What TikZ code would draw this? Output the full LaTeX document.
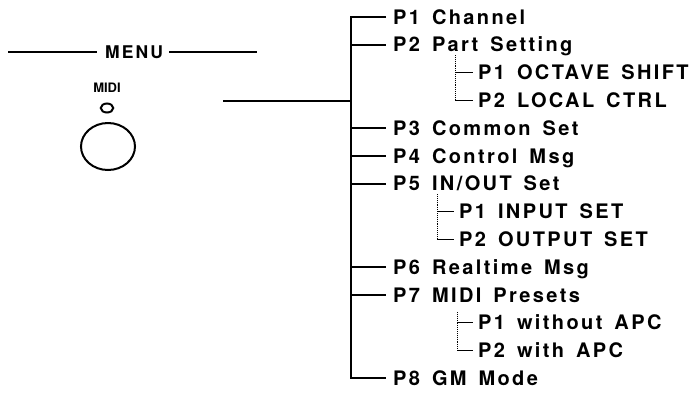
\documentclass[tikz,border=0pt]{standalone}
\usepackage{fontspec}
\setmainfont{TeX Gyre Heros}
\newfontfamily\menufont[LetterSpace=12,WordSpace=1.5]{TeX Gyre Heros}
\usepackage{tikz}
\usetikzlibrary{shapes.geometric}

\begin{document}
\begin{tikzpicture}[x=1pt, y=-1pt,
        item/.style={anchor=west, inner sep=0pt, font=\menufont\bfseries\fontsize{20}{22}\selectfont, text height=14.3pt, text depth=0pt},
        heading/.style={inner sep=0pt, font=\menufont\bfseries\fontsize{17.5}{19}\selectfont, text height=12.6pt, text depth=0pt},
        small/.style={inner sep=0pt, font=\bfseries\fontsize{13}{15}\selectfont, text height=9.4pt, text depth=0pt},
        rule/.style={line width=2pt},
        trunk/.style={line width=2pt},
        branch/.style={line width=1.6pt},
        subtrunk/.style={line width=0.9pt, densely dotted},
        subbranch/.style={line width=1.2pt}
    ]
        \useasboundingbox (0,0) rectangle (700,392);

        \node[heading] (menu) at (134,52) {MENU};
        \coordinate (ml) at (8,52);
        \coordinate (mr) at (257,52);
        \draw[rule] (ml) -- ([xshift=-8pt]menu.west);
        \draw[rule] ([xshift=6pt]menu.east) -- (mr);

        \node[small] (midi) at (107,88) {MIDI};
        \node[draw, ellipse, line width=2pt, minimum width=12.5pt, minimum height=9pt, inner sep=0pt] (led) at (107,108) {};
        \node[draw, ellipse, line width=2pt, minimum width=54pt, minimum height=47pt, inner sep=0pt] (knob) at (108,146.5) {};

        \coordinate (trunk) at (351,101);
        \coordinate (out) at (223,101);
        \draw[rule] (out) -- (trunk);

        \node[item] (p1) at (393,17) {P1 Channel};
        \node[item] (p2) at (393,44.8) {P2 Part Setting};
        \node[item] (p2a) at (478,72.6) {P1 OCTAVE SHIFT};
        \node[item] (p2b) at (478,100.4) {P2 LOCAL CTRL};
        \node[item] (p3) at (393,128.2) {P3 Common Set};
        \node[item] (p4) at (393,156) {P4 Control Msg};
        \node[item] (p5) at (393,183.8) {P5 IN/OUT Set};
        \node[item] (p5a) at (459,211.6) {P1 INPUT SET};
        \node[item] (p5b) at (459,239.4) {P2 OUTPUT SET};
        \node[item] (p6) at (393,267.2) {P6 Realtime Msg};
        \node[item] (p7) at (393,295) {P7 MIDI Presets};
        \node[item] (p7a) at (478,322.8) {P1 without APC};
        \node[item] (p7b) at (478,350.6) {P2 with APC};
        \node[item] (p8) at (393,378.4) {P8 GM Mode};

        \draw[trunk] ([xshift=-7pt]p1.west) -| (trunk) |- ([xshift=-7pt]p8.west);
        \foreach \n in {p2,p3,p4,p5,p6,p7}
            \draw[branch] (trunk |- \n.west) -- ([xshift=-7pt]\n.west);

        \draw[subtrunk] (455,55) coordinate (s2) -- (s2 |- p2b.west);
        \draw[subtrunk] (437,194) coordinate (s5) -- (s5 |- p5b.west);
        \draw[subtrunk] (457,312) coordinate (s7) -- (s7 |- p7b.west);
        \foreach \n/\s in {p2a/s2,p2b/s2,p5a/s5,p5b/s5,p7a/s7,p7b/s7}
            \draw[subbranch] (\s |- \n.west) -- ([xshift=-5pt]\n.west);
    \end{tikzpicture}
\end{document}
